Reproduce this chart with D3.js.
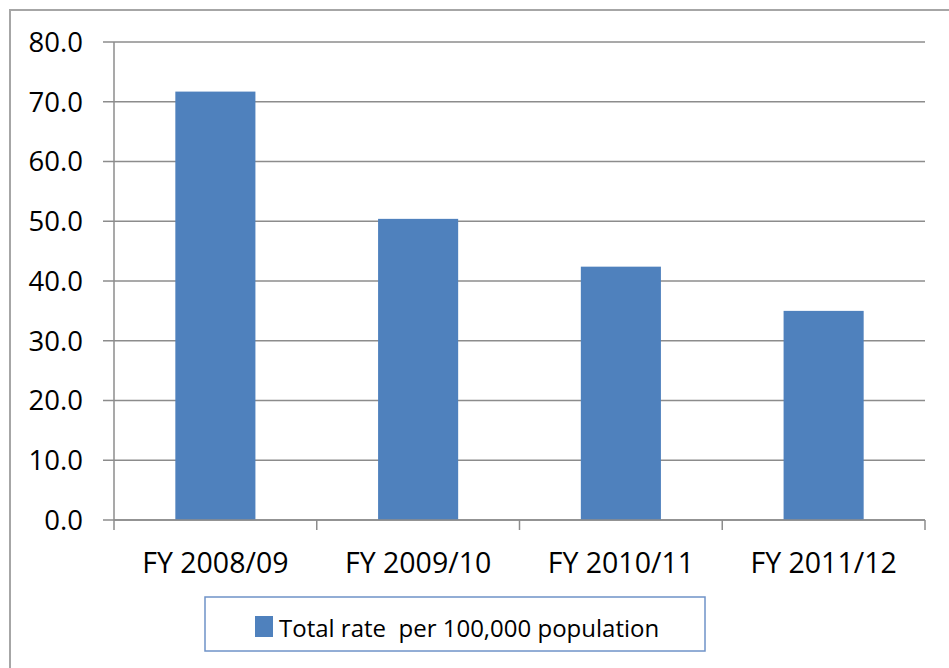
<!DOCTYPE html>
<html>
<head>
<meta charset="utf-8">
<script src="https://cdn.jsdelivr.net/npm/d3@7"></script>
<style>
  html, body { margin: 0; padding: 0; background: #fff; }
  svg { display: block; }
  text { font-family: "Open Sans", "Noto Sans", sans-serif; fill: #000; }
</style>
</head>
<body>
<svg id="chart"></svg>
<script>
// Data
const categories = ["FY 2008/09", "FY 2009/10", "FY 2010/11", "FY 2011/12"];
const rates = [71.7, 50.4, 42.4, 35.0];
const yTicks = [0, 10, 20, 30, 40, 50, 60, 70, 80];
const seriesName = "Total rate  per 100,000 population";

const width = 949;
const height = 668;
const margin = { top: 42, right: 24, bottom: 148, left: 114 };

const svg = d3.select("#chart")
  .attr("width", width)
  .attr("height", height);

// Outer chart border (runs off the right and bottom edges)
svg.append("rect")
  .attr("x", 10)
  .attr("y", 10)
  .attr("width", width + 20)
  .attr("height", height + 20)
  .attr("fill", "none")
  .attr("stroke", "#a6a6a6")
  .attr("stroke-width", 2);

const x = d3.scaleBand()
  .domain(categories)
  .range([margin.left, width - margin.right])
  .paddingInner(0.605)
  .paddingOuter(0.3025);

const y = d3.scaleLinear()
  .domain([0, 80])
  .range([height - margin.bottom, margin.top]);

const g = svg.append("g");

// Gridlines
g.append("g")
  .selectAll("line")
  .data(yTicks)
  .join("line")
  .attr("x1", margin.left - 11)
  .attr("x2", width - margin.right)
  .attr("y1", (d) => y(d))
  .attr("y2", (d) => y(d))
  .attr("stroke", "#8c8c8c")
  .attr("stroke-width", 1.5);

// Bars
g.append("g")
  .selectAll("rect")
  .data(rates)
  .join("rect")
  .attr("x", (d, i) => x(categories[i]))
  .attr("y", (d) => y(d))
  .attr("width", x.bandwidth())
  .attr("height", (d) => y(0) - y(d))
  .attr("fill", "#4f81bd");

// Y axis line
g.append("line")
  .attr("x1", margin.left)
  .attr("x2", margin.left)
  .attr("y1", y(80))
  .attr("y2", y(0))
  .attr("stroke", "#8c8c8c")
  .attr("stroke-width", 1.5);

// Y tick labels
g.append("g")
  .selectAll("text")
  .data(yTicks)
  .join("text")
  .attr("x", 83)
  .attr("y", (d) => y(d))
  .attr("dy", "0.36em")
  .attr("text-anchor", "end")
  .style("font-size", "27.5px")
  .text((d) => d.toFixed(1));

// X axis baseline and category dividers
const step = x.step();
const bounds = d3.range(categories.length + 1).map((i) => margin.left + i * step);
g.append("line")
  .attr("x1", margin.left)
  .attr("x2", width - margin.right)
  .attr("y1", y(0))
  .attr("y2", y(0))
  .attr("stroke", "#8c8c8c")
  .attr("stroke-width", 1.5);
g.append("g")
  .selectAll("line")
  .data(bounds)
  .join("line")
  .attr("x1", (d) => d)
  .attr("x2", (d) => d)
  .attr("y1", y(0))
  .attr("y2", y(0) + 10)
  .attr("stroke", "#8c8c8c")
  .attr("stroke-width", 1.5);

// Category labels
g.append("g")
  .selectAll("text")
  .data(categories)
  .join("text")
  .attr("x", (d) => x(d) + x.bandwidth() / 2)
  .attr("y", 573)
  .attr("text-anchor", "middle")
  .style("font-size", "28.5px")
  .text((d) => d);

// Legend
const legend = svg.append("g");
legend.append("rect")
  .attr("x", 205)
  .attr("y", 597)
  .attr("width", 500)
  .attr("height", 54)
  .attr("fill", "#fff")
  .attr("stroke", "#6f93c8")
  .attr("stroke-width", 1.5);
legend.append("rect")
  .attr("x", 255)
  .attr("y", 616)
  .attr("width", 18)
  .attr("height", 21)
  .attr("fill", "#4f81bd");
legend.append("text")
  .attr("x", 279)
  .attr("y", 637)
  .style("font-size", "24px")
  .style("white-space", "pre")
  .attr("xml:space", "preserve")
  .text(seriesName);
</script>
</body>
</html>
